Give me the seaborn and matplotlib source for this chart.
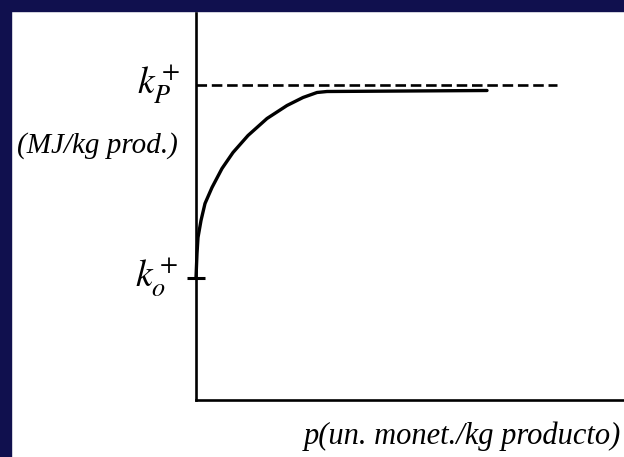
import matplotlib
matplotlib.use('Agg')
import matplotlib.pyplot as plt
from matplotlib.patches import Rectangle
import seaborn as sns
import pandas as pd

# curve (arbitrary units)
price = [0.0, 0.003, 0.01, 0.02, 0.05, 0.09, 0.16, 0.26, 0.37, 0.52, 0.71, 0.91,
         1.07, 1.21, 1.31, 2.91]
energy = [1.22, 1.29, 1.46, 1.62, 1.79, 1.96, 2.12, 2.31, 2.47, 2.64, 2.81, 2.94,
          3.02, 3.07, 3.08, 3.09]
k_o = 1.22
k_p = 3.15
dash_end = 3.61

NAVY = '#10104e'


def main():
    sns.set_style('white')
    plt.rcParams['font.family'] = ['Liberation Serif', 'DejaVu Serif']
    plt.rcParams['mathtext.fontset'] = 'stix'
    plt.rcParams['text.color'] = 'black'

    fig = plt.figure(figsize=(6.24, 4.57), dpi=100)
    fig.patch.set_facecolor('white')
    # navy frame on top and left
    fig.add_artist(Rectangle((0, 446 / 457), 1, 11 / 457, transform=fig.transFigure,
                             color=NAVY, zorder=0))
    fig.add_artist(Rectangle((0, 0), 11 / 624, 1, transform=fig.transFigure,
                             color=NAVY, zorder=0))

    ax = fig.add_axes([196 / 624, 57.5 / 457, 428 / 624, 386.5 / 457])
    df = pd.DataFrame({'p': price, 'k': energy})
    sns.lineplot(data=df, x='p', y='k', ax=ax, color='black', linewidth=2.4,
                 sort=False, clip_on=False, solid_joinstyle='round')
    ax.plot([0, dash_end], [k_p, k_p], color='black', linewidth=1.9,
            linestyle=(0, (4, 1.8)))

    ax.set_xlim(0, 4.28)
    ax.set_ylim(0, 3.865)
    for side in ['top', 'right']:
        ax.spines[side].set_visible(False)
    for side in ['left', 'bottom']:
        ax.spines[side].set_linewidth(1.9)
        ax.spines[side].set_color('black')
    ax.set_xticks([])
    ax.set_yticks([k_o])
    ax.set_yticklabels([])
    ax.tick_params(axis='y', direction='inout', length=13, width=2.2, color='black', left=True)
    ax.set_xlabel('')
    ax.set_ylabel('')

    ax.text(-0.15, k_p, r'$k_P^+$', ha='right', va='center', fontsize=27,
            color='black', clip_on=False)
    ax.text(-0.18, 2.54, '(MJ/kg prod.)', ha='right', va='center', fontsize=21,
            style='italic', color='black', clip_on=False)
    ax.text(-0.17, k_o, r'$k_o^+$', ha='right', va='center', fontsize=27,
            color='black', clip_on=False)
    ax.text(2.66, -0.37, 'p(un. monet./kg producto)', ha='center', va='center',
            fontsize=22, style='italic', color='black', clip_on=False)

    fig.savefig('out.png', dpi=100, facecolor=fig.get_facecolor())


if __name__ == '__main__':
    main()
